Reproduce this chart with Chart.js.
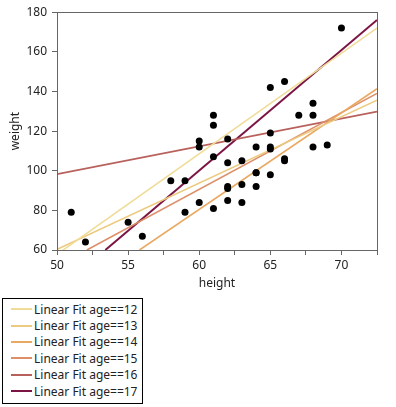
<!DOCTYPE html>
<html>
<head>
<meta charset="utf-8">
<script src="https://cdn.jsdelivr.net/npm/chart.js@4"></script>
<style>
  body { margin: 0; background: #fff; font-family: "Noto Sans", sans-serif; }
  #wrap { position: relative; width: 396px; height: 295px; }
  #legend {
    position: absolute; left: 2px; top: 298px; width: 139px; height: 102px;
    border: 1px solid #000; box-sizing: content-box; padding-top: 2px;
  }
  .item { display: flex; align-items: center; height: 16.4px; font-size: 12px; color: #222; }
  .swatch { width: 21px; height: 2px; margin-left: 8px; margin-right: 2px; }
</style>
</head>
<body>
<div id="wrap"><canvas id="chart" width="396" height="295"></canvas></div>
<div id="legend"></div>
<script>
document.addEventListener("DOMContentLoaded", () => {
  // scatter points (height, weight)
  const heights = [59, 61, 55, 66, 52, 60, 61, 51, 60, 61, 56, 65, 63, 58, 59, 61, 62, 65, 63, 62,
    63, 64, 65, 64, 68, 64, 69, 62, 64, 67, 65, 66, 62, 66, 65, 60, 68, 62, 68, 70];
  const weights = [95, 123, 74, 145, 64, 84, 128, 79, 112, 107, 67, 98, 105, 95, 79, 81, 91, 142, 84, 85,
    93, 99, 119, 92, 112, 99, 113, 92, 112, 128, 111, 105, 104, 106, 112, 115, 128, 116, 134, 172];

  // fit lines, read as two end points each
  const fitLabels = ["Linear Fit age==12", "Linear Fit age==13", "Linear Fit age==14",
    "Linear Fit age==15", "Linear Fit age==16", "Linear Fit age==17"];
  const fitX = [[50, 72.5], [50, 72.5], [55.8, 72.5], [52.1, 72.5], [50, 72.5], [53.4, 72.5]];
  const fitY = [[57.8, 172], [60.3, 135.6], [60, 141.4], [60, 139], [98.3, 129.8], [60, 176.1]];
  const fitColors = ["#f0dc98", "#eccb80", "#e9a962", "#dd8f68", "#b8605c", "#7c1444"];
  const fitWidths = [1.6, 1.6, 1.6, 1.6, 1.8, 2];

  const font = { family: "'Noto Sans', sans-serif", size: 12 };

  const datasets = [{
    label: "points",
    data: heights.map((h, i) => ({ x: h, y: weights[i] })),
    backgroundColor: "#000",
    borderWidth: 0,
    pointRadius: 3.5,
    showLine: false,
    order: 0,
  }];
  fitLabels.forEach((label, i) => {
    datasets.push({
      label: label,
      data: fitX[i].map((x, j) => ({ x: x, y: fitY[i][j] })),
      borderColor: fitColors[i],
      backgroundColor: fitColors[i],
      borderWidth: fitWidths[i],
      pointRadius: 0,
      showLine: true,
      order: 1,
    });
  });

  const frame = {
    id: "frame",
    afterDraw(chart) {
      const a = chart.chartArea;
      const c = chart.ctx;
      c.save();
      c.strokeStyle = "#666";
      c.lineWidth = 1;
      c.strokeRect(Math.round(a.left) + 0.5, Math.round(a.top) + 0.5, Math.round(a.right - a.left), Math.round(a.bottom - a.top));
      c.restore();
    },
  };

  const ctx = document.getElementById("chart").getContext("2d");
  const chart = new Chart(ctx, {
    type: "scatter",
    data: { datasets: datasets },
    plugins: [frame],
    options: {
      responsive: false,
      animation: false,
      layout: { padding: { left: 0, right: 19, top: 9, bottom: 0 } },
      plugins: { legend: { display: false }, tooltip: { enabled: false } },
      scales: {
        x: {
          min: 50, max: 72.5,
          afterFit(s) { s.height = 45; },
          ticks: {
            stepSize: 2.5, autoSkip: false, maxRotation: 0, padding: 3,
            color: "#222", font: font,
            callback: (v) => (v % 5 === 0 ? v : ""),
          },
          grid: { drawOnChartArea: false, tickLength: 5, color: "#666" },
          border: { color: "#666" },
          title: { display: true, text: "height", color: "#222", font: font, padding: { top: 0, bottom: 4 } },
        },
        y: {
          min: 60, max: 180,
          afterFit(s) { s.width = 57; },
          ticks: { stepSize: 20, padding: 5, color: "#222", font: font },
          grid: { drawOnChartArea: false, tickLength: 5, color: "#666" },
          border: { color: "#666" },
          title: { display: true, text: "weight", color: "#222", font: font, padding: { top: 8, bottom: 0 } },
        },
      },
    },
  });

  const legend = document.getElementById("legend");
  chart.data.datasets.slice(1).forEach((ds) => {
    const row = document.createElement("div");
    row.className = "item";
    const sw = document.createElement("span");
    sw.className = "swatch";
    sw.style.background = ds.borderColor;
    const txt = document.createElement("span");
    txt.textContent = ds.label;
    row.appendChild(sw);
    row.appendChild(txt);
    legend.appendChild(row);
  });
});
</script>
</body>
</html>
